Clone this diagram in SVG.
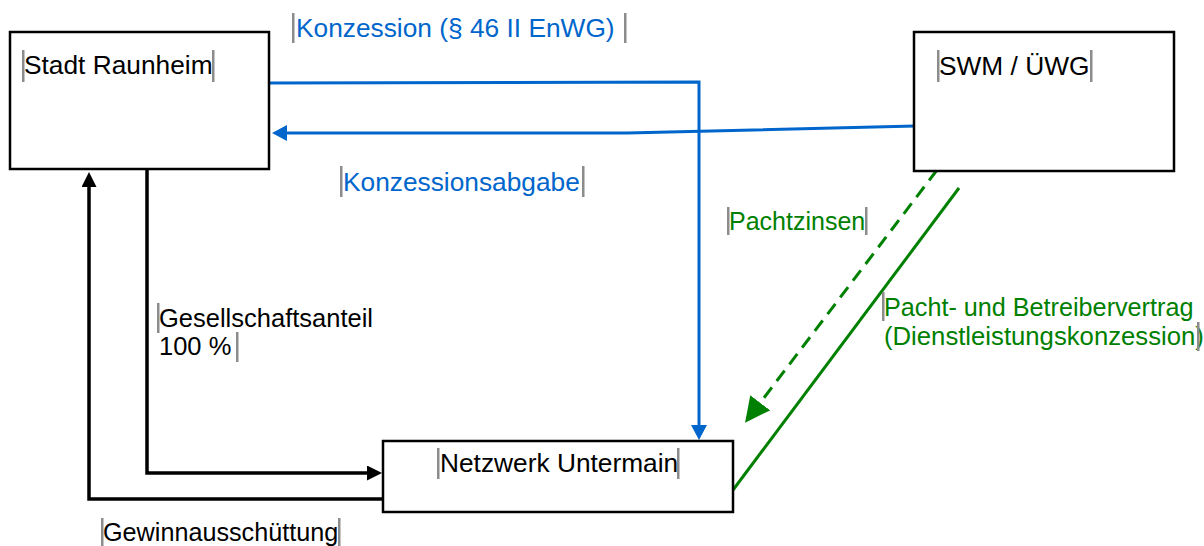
<svg xmlns="http://www.w3.org/2000/svg" width="1204" height="546" viewBox="0 0 1204 546">
<style>
.box{fill:#fff;stroke:#000;stroke-width:2.5}
text{font-family:"Liberation Sans",Arial,sans-serif;font-size:25.5px}
.w{font-size:26.3px}
.nt{fill:#000}
.bl{fill:#0066CC}
.gr{fill:#008000}
.bk{fill:#000}
.bar{fill:#8c8c8c}
.cb{fill:none;stroke:#0066CC;stroke-width:3}
.ck{fill:none;stroke:#000;stroke-width:3.5}
.cg{fill:none;stroke:#008000;stroke-width:3}
</style>
<defs>
<marker id="ab" markerUnits="userSpaceOnUse" markerWidth="16" markerHeight="16" refX="11" refY="8" orient="auto"><path d="M0,0 L15,8 L0,16 z" fill="#0066CC"/></marker>
<marker id="ak" markerUnits="userSpaceOnUse" markerWidth="16" markerHeight="16" refX="11" refY="7.5" orient="auto"><path d="M0,0 L15,7.5 L0,15 z" fill="#000"/></marker>
<marker id="ag" markerUnits="userSpaceOnUse" markerWidth="26" markerHeight="26" refX="21" refY="12.5" orient="auto"><path d="M0,0 L25,12.5 L0,25 z" fill="#008000"/></marker>
</defs>
<g id="connectors">
<path class="cb" d="M270,83 L699,82 L699,436" marker-end="url(#ab)"/>
<path class="cb" d="M915,126 L627,133 L276,133" marker-end="url(#ab)"/>
<path class="ck" d="M147,170 L147,473 L378,473" marker-end="url(#ak)"/>
<path class="ck" d="M383,499 L89,499 L89,176" marker-end="url(#ak)"/>
<path class="cg" d="M937,170 L747.5,419.5" stroke-dasharray="13 8" marker-end="url(#ag)"/>
<path class="cg" d="M959,188 L733,490"/>
</g>
<g id="stadt">
<rect class="box" x="10" y="32" width="259" height="137"/>
<rect class="bar" x="22" y="50" width="2.5" height="32"/>
<text class="nt w" x="24" y="74">Stadt Raunheim</text>
<rect class="bar" x="212" y="50" width="2.5" height="32"/>
</g>
<g id="swm">
<rect class="box" x="914" y="32" width="260" height="139"/>
<rect class="bar" x="937" y="50" width="2.5" height="32"/>
<text class="nt w" x="939" y="75">SWM / ÜWG</text>
<rect class="bar" x="1090" y="50" width="2.5" height="32"/>
</g>
<g id="netzwerk">
<rect class="box" x="383" y="441" width="350" height="71"/>
<rect class="bar" x="437" y="448" width="2.5" height="31"/>
<text class="nt w" x="440" y="472">Netzwerk Untermain</text>
<rect class="bar" x="677" y="448" width="2.5" height="31"/>
</g>
<g id="labels">
<rect class="bar" x="292" y="13" width="2.5" height="30"/>
<text class="bl w" x="296" y="37">Konzession (§ 46 II EnWG)</text>
<rect class="bar" x="624" y="13" width="2.5" height="30"/>
<rect class="bar" x="340" y="166" width="2.5" height="31"/>
<text class="bl w" x="343" y="191">Konzessionsabgabe</text>
<rect class="bar" x="582" y="166" width="2.5" height="31"/>
<rect class="bar" x="157" y="303" width="2.5" height="30"/>
<text class="bk" x="159" y="327">Gesellschaftsanteil</text>
<text class="bk" x="159" y="355">100 %</text>
<rect class="bar" x="236" y="332" width="2.5" height="30"/>
<rect class="bar" x="101" y="518" width="2.5" height="28"/>
<text class="bk" x="103" y="541" style="font-size:25.2px">Gewinnausschüttung</text>
<rect class="bar" x="338" y="518" width="2.5" height="28"/>
<rect class="bar" x="727" y="207" width="2.5" height="28"/>
<text class="gr" x="729" y="230" style="font-size:25px">Pachtzinsen</text>
<rect class="bar" x="865" y="207" width="2.5" height="28"/>
<rect class="bar" x="882" y="292" width="2.5" height="29"/>
<text class="gr" x="884" y="316" style="font-size:25.2px">Pacht- und Betreibervertrag</text>
<text class="gr" x="884" y="345" style="font-size:25.7px">(Dienstleistungskonzession)</text>
<rect class="bar" x="1197" y="322" width="2.5" height="29"/>
</g>
</svg>
